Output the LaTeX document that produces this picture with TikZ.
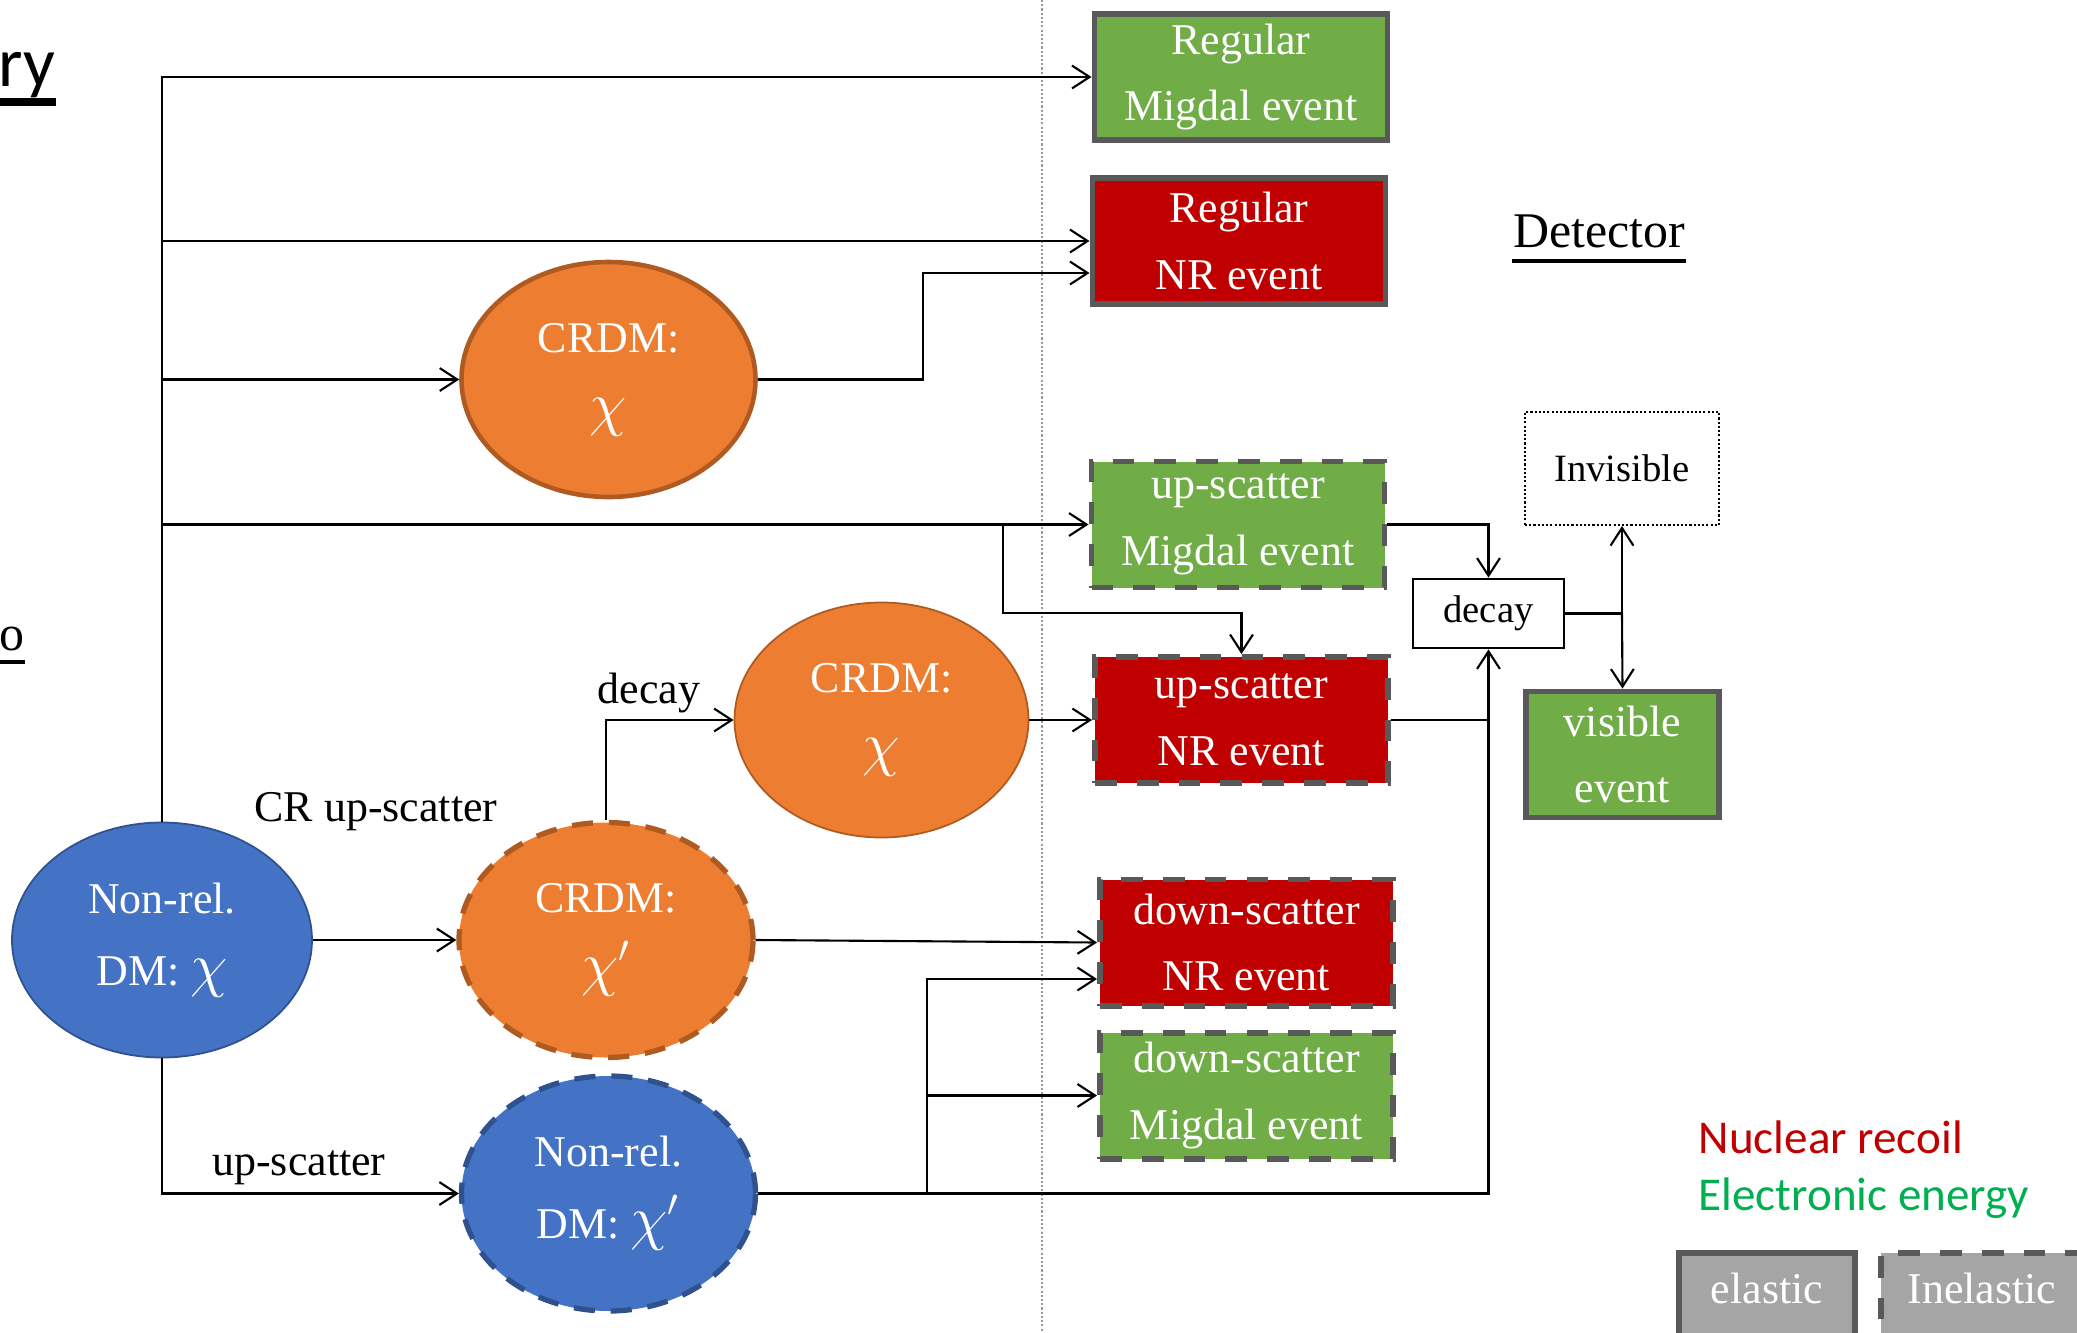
\documentclass[tikz,border=0pt]{standalone}
\usepackage{fontspec}
\setmainfont{Liberation Serif}
\newfontfamily\calibri{Carlito}
\usetikzlibrary{shapes.geometric, arrows.meta}

\definecolor{evgreen}{HTML}{70AD47}
\definecolor{evred}{HTML}{C00000}
\definecolor{dmblue}{HTML}{4472C4}
\definecolor{dmblueline}{HTML}{2F528F}
\definecolor{crorange}{HTML}{ED7D31}
\definecolor{crorangeline}{HTML}{AE5A21}
\definecolor{boxline}{HTML}{595959}
\definecolor{legendgray}{HTML}{A5A5A5}
\definecolor{legendgreen}{HTML}{00B050}

\newcommand{\chisym}{{\fontsize{16}{20.5}\selectfont$\chi$}}
\newcommand{\chiprime}{{\fontsize{16}{20.5}\selectfont$\chi'$}}

\begin{document}
\begin{tikzpicture}[
    txt/.style={font=\fontsize{12.5}{19}\selectfont, text=white, align=center, inner sep=0pt},
    event/.style={txt, draw=boxline, line width=1.7pt, minimum width=2.93cm, minimum height=1.26cm},
    inel/.style={event, dash pattern=on 6.2pt off 5.7pt},
    dm/.style={txt, font=\fontsize{12.5}{20.5}\selectfont, ellipse, minimum width=2.94cm, minimum height=2.35cm},
    dmdash/.style={dm, line width=1.5pt, dash pattern=on 6pt off 4.5pt},
    small/.style={font=\fontsize{11}{13}\selectfont, inner sep=0pt},
    link/.style={line width=0.6pt},
    arr/.style={link, -{Straight Barb[length=5pt,width=6.5pt]}},
    lbl/.style={font=\fontsize{12.5}{15}\selectfont, inner sep=0pt, anchor=base},
  ]
    % ছবির সীমানা
    \useasboundingbox (0,0) rectangle (20.77,-13.33);
    \clip (0,0) rectangle (20.77,-13.33);

    % কাটা শিরোনাম
    \node[anchor=base east, inner sep=0pt, font=\calibri\fontsize{20}{24}\selectfont] (ttl) at (0.56,-0.86) {ry};
    \draw[line width=2pt] (0,-1.02) -- (0.56,-1.02);
    \node[anchor=base east, inner sep=0pt, font=\fontsize{14.2}{17}\selectfont] (sub) at (0.25,-6.50) {o};
    \draw[line width=0.9pt] (0,-6.62) -- (0.25,-6.62);

    % ডিটেক্টরের সীমারেখা (বিন্দু রেখা)
    \draw[gray!80, line width=0.6pt, dash pattern=on 0.6pt off 0.6pt] (10.42,0) -- (10.42,-13.33);

    % ডিটেক্টরে ঘটনা
    \node[event, fill=evgreen] (rmig) at (12.41,-0.77) {Regular\\Migdal event};
    \node[event, fill=evred] (rnr) at (12.39,-2.41) {Regular\\NR event};
    \node[inel, fill=evgreen] (umig) at (12.38,-5.245) {up-scatter\\Migdal event};
    \node[inel, fill=evred] (unr) at (12.415,-7.20) {up-scatter\\NR event};
    \node[inel, fill=evred] (dnr) at (12.465,-9.425) {down-scatter\\NR event};
    \node[inel, fill=evgreen] (dmig) at (12.465,-10.955) {down-scatter\\Migdal event};

    % ক্ষয় এবং তার ফলাফল
    \node[small, draw, line width=0.8pt, fill=white, minimum width=1.51cm, minimum height=0.69cm] (dec) at (14.885,-6.135) {decay};
    \node[small, draw, line width=0.6pt, dash pattern=on 0.6pt off 0.6pt, minimum width=1.94cm, minimum height=1.13cm] (invis) at (16.22,-4.685) {Invisible};
    \node[event, fill=evgreen, minimum width=1.93cm] (vis) at (16.225,-7.545) {visible\\event};

    % ডার্ক ম্যাটার উপবৃত্ত
    \node[dm, fill=dmblue, draw=dmblueline, line width=0.5pt, minimum width=3cm] (nrchi) at (1.62,-9.40) {Non-rel.\\DM: \chisym};
    \node[dm, fill=crorange, draw=crorangeline, line width=1.3pt] (crdma) at (6.085,-3.795) {CRDM:\\\chisym};
    \node[dmdash, fill=crorange, draw=crorangeline] (crdmp) at (6.06,-9.40) {CRDM:\\\chiprime};
    \node[dm, fill=crorange, draw=crorangeline, line width=0.5pt] (crdmb) at (8.815,-7.20) {CRDM:\\\chisym};
    \node[dmdash, fill=dmblue, draw=dmblueline] (nrp) at (6.085,-11.935) {Non-rel.\\DM: \chiprime};

    % বাম দিকের প্রধান রেখা
    \draw[arr] (nrchi.north) |- (rmig.west);
    \coordinate (tb) at (nrchi.north |- rnr.west);
    \draw[arr] (tb) -- (rnr.west);
    \coordinate (tc) at (nrchi.north |- crdma.west);
    \draw[arr] (tc) -- (crdma.west);
    \coordinate (td) at (nrchi.north |- umig.west);
    \draw[arr] (td) -- (umig.west);

    % CRDM থেকে NR ঘটনা
    \coordinate (kc) at (9.23,-2.73);
    \draw[arr] (crdma.east) -| (kc) -- (kc -| rnr.west);

    % up-scatter শাখা
    \coordinate (ba) at (10.03,-5.245);
    \coordinate (bb) at (10.03,-6.13);
    \draw[arr] (ba) -- (bb) -| (unr.north);

    % CR up-scatter এবং decay
    \draw[arr] (nrchi.east) -- (crdmp.west);
    \draw[arr] (crdmp.north) |- (crdmb.west);
    \draw[arr] (crdmb.east) -- (unr.west);
    \draw[arr] (crdmp.east) -- (dnr.west);
    \draw[arr] (nrchi.south) |- (nrp.west);
    \draw[arr] (nrp.east) -| (dec.south);

    % down-scatter শাখা
    \coordinate (ja) at (9.27,-11.935);
    \coordinate (jb) at (9.27,-9.79);
    \draw[arr] (ja) |- (dmig.west);
    \draw[arr] (ja) -- (jb) -- (jb -| dnr.west);

    % ক্ষয়ের রেখা
    \draw[arr] (umig.east) -| (dec.north);
    \draw[link] (unr.east) -- (unr.east -| dec.south);
    \coordinate (jd) at (dec.east -| invis.south);
    \draw[link] (dec.east) -- (jd);
    \draw[arr] (jd) -- (invis.south);
    \draw[arr] (jd) -- (vis.north);

    % লেবেল প্রদান
    \node[lbl] (lbdecay) at (6.49,-7.03) {decay};
    \node[lbl] (lbcr) at (3.76,-8.21) {CR up-scatter};
    \node[lbl] (lbup) at (2.99,-11.75) {up-scatter};
    \node[lbl, font=\fontsize{14.2}{17}\selectfont] (det) at (15.99,-2.47) {Detector};
    \draw[line width=0.9pt] ([yshift=-0.14cm]det.base west) -- ([yshift=-0.14cm]det.base east);

    % সংকেত (legend)
    \node[anchor=base west, inner sep=0pt, text=evred, font=\calibri\fontsize{13.4}{16}\selectfont] (lgnr) at (16.98,-11.53) {Nuclear recoil};
    \node[anchor=base west, inner sep=0pt, text=legendgreen, font=\calibri\fontsize{13.4}{16}\selectfont] (lgee) at (16.98,-12.10) {Electronic energy};
    \node[event, fill=legendgray, anchor=north, minimum width=1.76cm, minimum height=0pt, text height=0.5cm, text depth=0.45cm] (lgel) at (17.67,-12.50) {elastic};
    \node[inel, fill=legendgray, anchor=north, minimum width=2.02cm, minimum height=0pt, text height=0.5cm, text depth=0.45cm] (lgin) at (19.82,-12.50) {Inelastic};
\end{tikzpicture}
\end{document}
